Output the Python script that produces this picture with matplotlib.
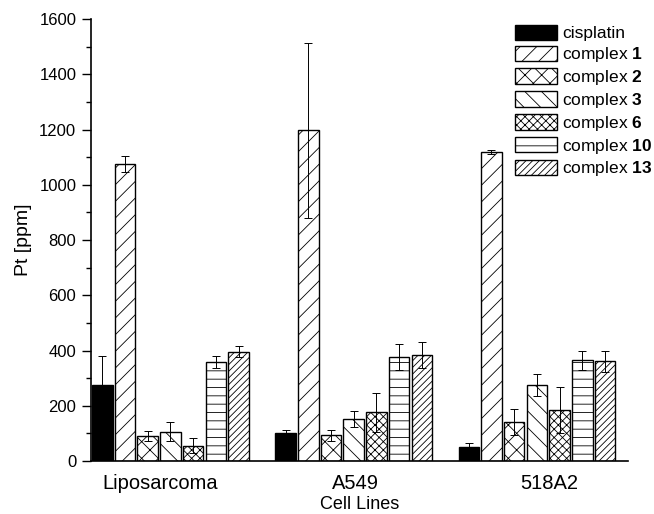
import matplotlib
matplotlib.use("Agg")
import matplotlib.pyplot as plt
import numpy as np

plt.rcParams['font.family'] = ['Liberation Sans', 'DejaVu Sans']
plt.rcParams['mathtext.fontset'] = 'custom'
plt.rcParams['mathtext.rm'] = 'Liberation Sans'
plt.rcParams['mathtext.bf'] = 'Liberation Sans:bold'
plt.rcParams['hatch.linewidth'] = 0.6

cell_lines = ["Liposarcoma", "A549", "518A2"]
compounds = ["cisplatin", "complex $\\mathbf{1}$", "complex $\\mathbf{2}$", "complex $\\mathbf{3}$",
             "complex $\\mathbf{6}$", "complex $\\mathbf{10}$", "complex $\\mathbf{13}$"]

# Pt content per compound, one value per cell line
cisplatin = [275, 100, 51]
complex1 = [1075, 1197, 1118]
complex2 = [90, 93, 140]
complex3 = [106, 152, 274]
complex6 = [56, 176, 185]
complex10 = [358, 375, 364]
complex13 = [395, 384, 361]

cisplatin_err = [105, 12, 13]
complex1_err = [30, 318, 8]
complex2_err = [18, 20, 47]
complex3_err = [35, 29, 40]
complex6_err = [27, 70, 84]
complex10_err = [22, 47, 36]
complex13_err = [20, 46, 38]

values = [cisplatin, complex1, complex2, complex3, complex6, complex10, complex13]
errors = [cisplatin_err, complex1_err, complex2_err, complex3_err, complex6_err, complex10_err, complex13_err]
hatches = [None, '//', 'xx', '\\\\', 'xxxx', '--', '/////']

fig = plt.figure(figsize=(6.54, 5.14), dpi=100)
ax = fig.add_axes([0.139, 0.103, 0.821, 0.860])

x = np.arange(len(cell_lines))
step = 0.124
width = 0.112
for i, (vals, errs, h, lab) in enumerate(zip(values, errors, hatches, compounds)):
    pos = x + (i - 3) * step
    if h is None:
        ax.bar(pos, vals, width, color='black', edgecolor='black', linewidth=1, label=lab)
    else:
        ax.bar(pos, vals, width, color='white', edgecolor='black', hatch=h, linewidth=1, label=lab)
    ax.errorbar(pos, vals, yerr=errs, fmt='none', ecolor='black', elinewidth=0.7,
                capsize=3, capthick=0.7)

ax.set_xlim(-0.434, 2.496)
ax.set_ylim(0, 1600)
ax.set_yticks(np.arange(0, 1601, 200))
ax.set_yticks(np.arange(100, 1600, 200), minor=True)
# category labels sit slightly spread out relative to the bar groups
ax.set_xticks(x + np.array([-0.057, 0.012, 0.065]))
ax.set_xticklabels(cell_lines, fontsize=14.5)
ax.tick_params(axis='x', length=0, pad=9)
ax.tick_params(axis='y', which='major', length=6.5, width=1, direction='out', labelsize=12, pad=4)
ax.tick_params(axis='y', which='minor', length=3.5, width=1, direction='out')
for s in ['top', 'right']:
    ax.spines[s].set_visible(False)
ax.spines['left'].set_linewidth(1.2)
ax.spines['bottom'].set_linewidth(1.2)

ax.set_xlabel("Cell Lines", fontsize=13, labelpad=2.5)
ax.set_ylabel("Pt [ppm]", fontsize=14, labelpad=5)

ax.legend(loc='upper right', bbox_to_anchor=(1.045, 0.987), frameon=False, fontsize=12.5,
          handlelength=2.4, handleheight=1.0, labelspacing=0.22, handletextpad=0.3,
          borderaxespad=0, borderpad=0)

fig.savefig("out.png", dpi=100)
